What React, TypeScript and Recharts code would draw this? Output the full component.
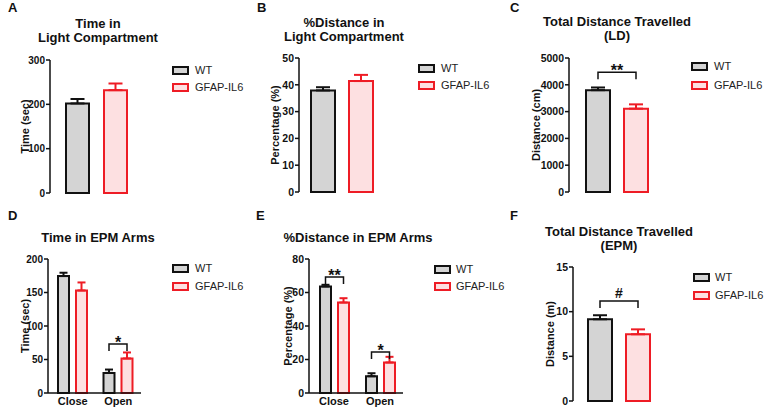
import { Bar, BarChart, ErrorBar, LabelList, XAxis, YAxis } from 'recharts'

const FONT = '"Liberation Sans", Arial, sans-serif'
const INK = '#111'
const WT_FILL = '#d4d4d4'
const IL6_FILL = '#fde0e1'
const IL6_STROKE = '#ee1c25'

const groups = ['WT', 'GFAP-IL6']
const single = ['']
const arms = ['Close', 'Open']

// A – time in light compartment (sec)
const timeLightWt = [202]
const timeLightWtSem = [10]
const timeLightIl6 = [232]
const timeLightIl6Sem = [15]
const timeLightTicks = [0, 100, 200, 300]

// B – % distance in light compartment
const distLightWt = [37.9]
const distLightWtSem = [1.2]
const distLightIl6 = [41.4]
const distLightIl6Sem = [2.3]
const distLightTicks = [0, 10, 20, 30, 40, 50]

// C – total distance LD (cm)
const totalLdWt = [3800]
const totalLdWtSem = [100]
const totalLdIl6 = [3110]
const totalLdIl6Sem = [160]
const totalLdTicks = [0, 1000, 2000, 3000, 4000, 5000]
const totalLdBrackets = [4470]
const totalLdMarks = ['**']

// D – time in EPM arms (sec)
const timeEpmWt = [174.5, 30]
const timeEpmWtSem = [5, 5]
const timeEpmIl6 = [153, 51.5]
const timeEpmIl6Sem = [12, 9]
const timeEpmTicks = [0, 50, 100, 150, 200]
const timeEpmBrackets = [null, 73]
const timeEpmMarks = [null, '*']

// E – % distance in EPM arms
const distEpmWt = [63.6, 10]
const distEpmWtSem = [1, 1.8]
const distEpmIl6 = [54, 18.2]
const distEpmIl6Sem = [2.6, 3.4]
const distEpmTicks = [0, 20, 40, 60, 80]
const distEpmBrackets = [69.3, 24.5]
const distEpmMarks = ['**', '*']

// F – total distance EPM (m)
const totalEpmWt = [9.15]
const totalEpmWtSem = [0.45]
const totalEpmIl6 = [7.47]
const totalEpmIl6Sem = [0.55]
const totalEpmTicks = [0, 5, 10, 15]
const totalEpmBrackets = [11.2]
const totalEpmMarks = ['#']

function rows(cats: string[], wt: number[], wtSem: number[], il6: number[], il6Sem: number[]) {
  return cats.map((cat, i) => ({
    cat,
    wt: wt[i],
    wtErr: [0, wtSem[i]],
    il6: il6[i],
    il6Err: [0, il6Sem[i]],
  }))
}

// significance bracket drawn from the WT bar's own geometry to the paired GFAP-IL6 bar
function bracketContent(levels: (number | null)[], marks: (string | null)[], wt: number[], pitch: number) {
  return (props: any) => {
    const i = props.index
    const level = levels[i]
    if (level == null) return null
    const vb = props.viewBox ?? props
    const { x, y, width, height } = vb
    const per = height / wt[i]
    const by = y + height - level * per
    const x1 = x + width / 2
    const x2 = x1 + pitch
    const mark = marks[i]
    return (
      <g>
        <path d={`M${x1},${by + 7}V${by}H${x2}V${by + 7}`} stroke={INK} strokeWidth={1.5} fill="none" />
        <text
          x={(x1 + x2) / 2}
          y={mark === '#' ? by - 3 : by + 4}
          textAnchor="middle"
          fontSize={mark === '#' ? 14 : 16}
          fontWeight="bold"
          fontFamily={FONT}
          fill={INK}
        >
          {mark}
        </text>
      </g>
    )
  }
}

function yLabelContent(text: string, cx: number) {
  return (props: any) => {
    const vb = props.viewBox ?? {}
    const cy = vb.y + vb.height / 2
    return (
      <text
        x={cx}
        y={cy}
        transform={`rotate(-90, ${cx}, ${cy})`}
        textAnchor="middle"
        dominantBaseline="central"
        fontSize={11}
        fontWeight="bold"
        fontFamily={FONT}
        fill={INK}
      >
        {text}
      </text>
    )
  }
}

interface PanelProps {
  data: ReturnType<typeof rows>
  wt: number[]
  ticks: number[]
  yLabel: string
  yLabelX: number
  left: number
  top: number
  width: number
  height: number
  yWidth: number
  margin: { top: number; right: number; bottom: number; left: number }
  barSize: number
  barGap: number
  cap: number
  xLabels?: boolean
  tickFont?: number
  brackets?: (number | null)[]
  marks?: (string | null)[]
}

function Panel(p: PanelProps) {
  const max = p.ticks[p.ticks.length - 1]
  return (
    <div style={{ position: 'absolute', left: p.left, top: p.top }}>
      <BarChart
        width={p.width}
        height={p.height}
        data={p.data}
        margin={p.margin}
        barSize={p.barSize}
        barGap={p.barGap}
        style={{ overflow: 'visible' }}
      >
        <XAxis
          dataKey="cat"
          height={p.xLabels ? 17 : 0}
          tick={p.xLabels ? { fill: INK, fontSize: 11, fontWeight: 'bold', fontFamily: FONT } : false}
          tickLine={false}
          tickSize={0}
          tickMargin={4}
          padding={p.xLabels ? { left: 2, right: 0 } : undefined}
          axisLine={{ stroke: INK, strokeWidth: 1.5 }}
        />
        <YAxis
          width={p.yWidth}
          domain={[0, max]}
          ticks={p.ticks}
          interval={0}
          tickSize={4}
          tickMargin={1}
          axisLine={{ stroke: INK, strokeWidth: 1.5 }}
          tickLine={{ stroke: INK, strokeWidth: 1.5 }}
          tick={{ fill: INK, fontSize: p.tickFont ?? 10.5, fontWeight: 'bold', fontFamily: FONT }}
          label={yLabelContent(p.yLabel, p.yLabelX - p.left)}
        />
        <Bar dataKey="wt" fill={WT_FILL} stroke={INK} strokeWidth={2} isAnimationActive={false}>
          <ErrorBar dataKey="wtErr" width={p.cap} stroke={INK} strokeWidth={2} isAnimationActive={false} />
          {p.brackets && (
            <LabelList content={bracketContent(p.brackets, p.marks ?? [], p.wt, p.barSize + p.barGap)} />
          )}
        </Bar>
        <Bar dataKey="il6" fill={IL6_FILL} stroke={IL6_STROKE} strokeWidth={2} isAnimationActive={false}>
          <ErrorBar dataKey="il6Err" width={p.cap} stroke={IL6_STROKE} strokeWidth={2} isAnimationActive={false} />
        </Bar>
      </BarChart>
    </div>
  )
}

function Title({ lines, cx, top }: { lines: string[]; cx: number; top: number }) {
  return (
    <div
      style={{
        position: 'absolute',
        left: cx - 110,
        width: 220,
        top,
        textAlign: 'center',
        fontFamily: FONT,
        fontWeight: 'bold',
        fontSize: 13,
        lineHeight: '14px',
        color: INK,
      }}
    >
      {lines.map((l) => (
        <div key={l}>{l}</div>
      ))}
    </div>
  )
}

function Letter({ text, x, y }: { text: string; x: number; y: number }) {
  return (
    <div
      style={{
        position: 'absolute',
        left: x,
        top: y - 7,
        fontFamily: FONT,
        fontWeight: 'bold',
        fontSize: 13,
        lineHeight: '14px',
        color: INK,
      }}
    >
      {text}
    </div>
  )
}

function Legend({ x, y1, y2, textX }: { x: number; y1: number; y2: number; textX: number }) {
  const ys = [y1, y2]
  const fills = [WT_FILL, IL6_FILL]
  const strokes = [INK, IL6_STROKE]
  return (
    <>
      {groups.map((g, i) => (
        <div key={g} style={{ position: 'absolute', left: x, top: ys[i] - 7, height: 14, display: 'flex', alignItems: 'center' }}>
          <div style={{ width: 13, height: 5, border: `2px solid ${strokes[i]}`, background: fills[i] }} />
          <div
            style={{
              position: 'absolute',
              left: textX - x,
              fontFamily: FONT,
              fontSize: 11,
              color: '#222',
              whiteSpace: 'nowrap',
            }}
          >
            {g}
          </div>
        </div>
      ))}
    </>
  )
}

export default function App() {
  return (
    <div style={{ position: 'absolute', left: 0, top: 0, width: 767, height: 412, overflow: 'hidden', background: '#fff' }}>
      <Letter text="A" x={8} y={8} />
      <Letter text="B" x={257} y={8} />
      <Letter text="C" x={510} y={8} />
      <Letter text="D" x={8} y={216} />
      <Letter text="E" x={256} y={216} />
      <Letter text="F" x={510} y={216} />

      <Title lines={['Time in', 'Light Compartment']} cx={98} top={17} />
      <Title lines={['%Distance in', 'Light Compartment']} cx={344} top={16} />
      <Title lines={['Total Distance Travelled', '(LD)']} cx={617} top={15} />
      <Title lines={['Time in EPM Arms']} cx={98} top={231} />
      <Title lines={['%Distance in EPM Arms']} cx={358} top={231} />
      <Title lines={['Total Distance Travelled', '(EPM)']} cx={619} top={225} />

      <Panel
        data={rows(single, timeLightWt, timeLightWtSem, timeLightIl6, timeLightIl6Sem)}
        wt={timeLightWt}
        ticks={timeLightTicks}
        yLabel="Time (sec)"
        yLabelX={25}
        left={0}
        top={0}
        width={148}
        height={200}
        yWidth={50}
        margin={{ top: 60, right: 5, bottom: 7, left: 0 }}
        barSize={23}
        barGap={15}
        cap={7}
        tickFont={10}
      />
      <Panel
        data={rows(single, distLightWt, distLightWtSem, distLightIl6, distLightIl6Sem)}
        wt={distLightWt}
        ticks={distLightTicks}
        yLabel="Percentage (%)"
        yLabelX={275}
        left={251}
        top={0}
        width={139}
        height={200}
        yWidth={48}
        margin={{ top: 58, right: 5, bottom: 8, left: 0 }}
        barSize={24}
        barGap={14}
        cap={7}
      />
      <Panel
        data={rows(single, totalLdWt, totalLdWtSem, totalLdIl6, totalLdIl6Sem)}
        wt={totalLdWt}
        ticks={totalLdTicks}
        yLabel="Distance (cm)"
        yLabelX={536}
        left={507}
        top={0}
        width={163}
        height={200}
        yWidth={62}
        margin={{ top: 58, right: 5, bottom: 8, left: 0 }}
        barSize={24}
        barGap={14}
        cap={7}
        tickFont={10.5}
        brackets={totalLdBrackets}
        marks={totalLdMarks}
      />
      <Panel
        data={rows(arms, timeEpmWt, timeEpmWtSem, timeEpmIl6, timeEpmIl6Sem)}
        wt={timeEpmWt}
        ticks={timeEpmTicks}
        yLabel="Time (sec)"
        yLabelX={25}
        left={2}
        top={200}
        width={144}
        height={211}
        yWidth={46}
        margin={{ top: 59, right: 5, bottom: 1, left: 0 }}
        barSize={11}
        barGap={7}
        cap={4}
        xLabels
        tickFont={10}
        brackets={timeEpmBrackets}
        marks={timeEpmMarks}
      />
      <Panel
        data={rows(arms, distEpmWt, distEpmWtSem, distEpmIl6, distEpmIl6Sem)}
        wt={distEpmWt}
        ticks={distEpmTicks}
        yLabel="Percentage (%)"
        yLabelX={288}
        left={267}
        top={200}
        width={141}
        height={211}
        yWidth={42}
        margin={{ top: 59, right: 5, bottom: 1, left: 0 }}
        barSize={11}
        barGap={7}
        cap={4}
        xLabels
        brackets={distEpmBrackets}
        marks={distEpmMarks}
      />
      <Panel
        data={rows(single, totalEpmWt, totalEpmWtSem, totalEpmIl6, totalEpmIl6Sem)}
        wt={totalEpmWt}
        ticks={totalEpmTicks}
        yLabel="Distance (m)"
        yLabelX={550}
        left={527}
        top={200}
        width={142}
        height={206}
        yWidth={46}
        margin={{ top: 67, right: 5, bottom: 5, left: 0 }}
        barSize={24}
        barGap={14}
        cap={7}
        brackets={totalEpmBrackets}
        marks={totalEpmMarks}
      />

      <Legend x={172} y1={70} y2={87} textX={195} />
      <Legend x={418} y1={68} y2={85} textX={441} />
      <Legend x={691} y1={66} y2={85} textX={714} />
      <Legend x={172} y1={268} y2={286} textX={195} />
      <Legend x={434} y1={269} y2={286} textX={456} />
      <Legend x={693} y1={277} y2={295} textX={715} />
    </div>
  )
}
